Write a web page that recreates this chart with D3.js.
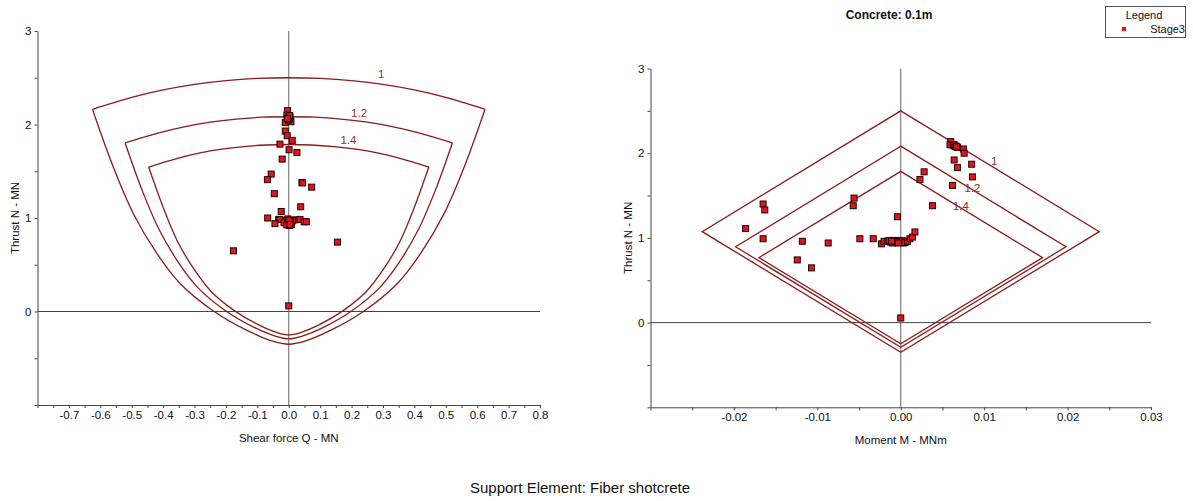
<!DOCTYPE html>
<html>
<head>
<meta charset="utf-8">
<script src="https://d3js.org/d3.v7.min.js"></script>
<style>
  body { margin: 0; background: #fff; }
  svg text { font-family: "Liberation Sans", Arial, sans-serif; }
</style>
</head>
<body>
<svg id="chart" width="1193" height="501"></svg>
<script>
// factor of safety for each envelope
const safetyFactors = ["1", "1.2", "1.4"];

// shear force envelopes [Q, N] - top arc and lower U, one per safety factor
const shearTopFS1 = [[-0.625,2.163],[-0.5,2.29],[-0.4,2.37],[-0.3,2.43],[-0.2,2.47],[-0.1,2.493],[0,2.5],[0.1,2.493],[0.2,2.47],[0.3,2.43],[0.4,2.37],[0.5,2.29],[0.625,2.163]];
const shearLowFS1 = [[-0.625,2.163],[-0.559,1.548],[-0.495,1.049],[-0.42,0.621],[-0.346,0.30],[-0.24,0.006],[-0.134,-0.20],[-0.049,-0.32],[0,-0.35],[0.049,-0.32],[0.134,-0.20],[0.24,0.006],[0.346,0.30],[0.42,0.621],[0.495,1.049],[0.559,1.548],[0.625,2.163]];
const shearTopFS12 = [[-0.521,1.803],[-0.417,1.908],[-0.333,1.975],[-0.25,2.025],[-0.167,2.058],[-0.083,2.078],[0,2.083],[0.083,2.078],[0.167,2.058],[0.25,2.025],[0.333,1.975],[0.417,1.908],[0.521,1.803]];
const shearLowFS12 = [[-0.521,1.803],[-0.466,1.29],[-0.4125,0.874],[-0.35,0.518],[-0.288,0.25],[-0.2,0.005],[-0.112,-0.167],[-0.041,-0.265],[0,-0.292],[0.041,-0.265],[0.112,-0.167],[0.2,0.005],[0.288,0.25],[0.35,0.518],[0.4125,0.874],[0.466,1.29],[0.521,1.803]];
const shearTopFS14 = [[-0.446,1.545],[-0.357,1.636],[-0.286,1.693],[-0.214,1.736],[-0.143,1.764],[-0.071,1.781],[0,1.786],[0.071,1.781],[0.143,1.764],[0.214,1.736],[0.286,1.693],[0.357,1.636],[0.446,1.545]];
const shearLowFS14 = [[-0.446,1.545],[-0.399,1.106],[-0.354,0.749],[-0.3,0.444],[-0.247,0.214],[-0.171,0.004],[-0.096,-0.143],[-0.035,-0.228],[0,-0.25],[0.035,-0.228],[0.096,-0.143],[0.171,0.004],[0.247,0.214],[0.3,0.444],[0.354,0.749],[0.399,1.106],[0.446,1.545]];

// moment envelopes [M, N] (diamonds)
const momentFS1 = [[0,2.5],[0.0238,1.074],[0,-0.35],[-0.0238,1.074]];
const momentFS12 = [[0,2.083],[0.0198,0.895],[0,-0.292],[-0.0198,0.895]];
const momentFS14 = [[0,1.786],[0.017,0.767],[0,-0.25],[-0.017,0.767]];

// Stage3 liner results [Q, N]
const shearStage3 = [
  [-0.004,2.148],[-0.011,2.02],[0.007,2.03],[-0.011,1.93],[-0.005,1.88],[0.011,1.83],[-0.028,1.79],[0.001,1.73],
  [0.026,1.70],[-0.021,1.63],[-0.056,1.47],[-0.068,1.41],[0.042,1.38],[0.044,1.375],[0.073,1.33],[-0.046,1.26],
  [-0.024,1.07],[0.038,1.12],[-0.067,1.00],[-0.032,0.985],[-0.028,0.985],[-0.044,0.94],[0.02,0.98],
  [0.036,0.985],[0.049,0.96],[0.056,0.96],
  [-0.003,2.09],[0.002,2.07],[-0.002,2.06],[0.004,2.08],[0,2.05],[-0.006,2.1],[0.001,2.085],[-0.001,2.075],[0.003,2.095],[-0.004,2.065],
  [-0.01,0.96],[-0.005,0.94],[0,0.97],[0.005,0.95],[0.008,0.93],[-0.003,0.99],[0.003,0.92],[0,0.95],[-0.008,0.97],[0.01,0.96],[-0.015,0.95],[0.012,0.975],
  [-0.004,0.955],[0.002,0.945],[0.006,0.965],[-0.002,0.935],[0.001,0.975],[-0.006,0.925],[0.004,0.93],
  [0.155,0.742],[-0.176,0.649],[0,0.06]
];
// Stage3 liner results [M, N]
const momentStage3 = [
  [0.0060,2.137],[0.0059,2.10],[0.0075,2.05],[0.0076,2.00],
  [0.0064,1.92],[0.0085,1.87],[0.0068,1.83],[0.0086,1.72],[0.0062,1.62],[0.0028,1.78],[0.0023,1.69],
  [0.0038,1.38],[-0.0056,1.47],[-0.0057,1.38],[-0.0004,1.25],[-0.0165,1.40],[-0.0163,1.33],[-0.0186,1.11],
  [-0.0165,0.99],[-0.0118,0.96],[-0.0087,0.94],[-0.0049,0.99],[-0.0033,0.99],[-0.0023,0.93],[-0.0020,0.96],
  [0.0065,2.08],[0.0063,2.09],[0.0068,2.07],[0.0064,2.10],[0.0066,2.085],[0.0067,2.075],
  [-0.0016,0.96],[-0.0012,0.95],[-0.0008,0.97],[-0.0004,0.95],[0,0.96],[0.0003,0.94],[-0.0002,0.97],[0.0004,0.96],[-0.001,0.94],[-0.0014,0.97],[0.0001,0.95],
  [-0.0006,0.955],[0.0002,0.965],[-0.0011,0.962],[0.0005,0.945],[-0.0003,0.94],
  [0.0008,0.96],[0.0011,0.99],[0.0014,1.01],[0.0017,1.07],
  [-0.0124,0.74],[-0.0107,0.646],[0,0.055]
];

// tick labels
const shearTickLabels = [-0.7,-0.6,-0.5,-0.4,-0.3,-0.2,-0.1,0,0.1,0.2,0.3,0.4,0.5,0.6,0.7,0.8];
const momentTickLabels = [-0.02,-0.01,0,0.01,0.02,0.03];
const thrustTickLabels = [0,1,2,3];

const svg = d3.select("#chart");
const lineColor = "#8b1a1a";
const axisColor = "#444";
const locale = d3.formatLocale({decimal: ".", thousands: ",", grouping: [3], currency: ["", ""], minus: "-"});

function drawPanel(o) {
  const x = d3.scaleLinear().domain(o.xDomain).range(o.xRange);
  const y = d3.scaleLinear().domain([-1, 3]).range(o.yRange);
  const g = svg.append("g");

  // zero lines
  g.append("line").attr("x1", x(o.xDomain[0])).attr("x2", x(o.xDomain[1]))
    .attr("y1", y(0)).attr("y2", y(0)).attr("stroke", axisColor).attr("stroke-width", 1);
  g.append("line").attr("x1", x(0)).attr("x2", x(0))
    .attr("y1", y(3)).attr("y2", y(-1)).attr("stroke", "#666").attr("stroke-width", 1);

  // axes
  const fmt = locale.format(o.fmt);
  const xAxis = d3.axisBottom(x)
    .tickValues(d3.range(o.xDomain[0], o.xDomain[1] + o.minor / 2, o.minor))
    .tickSizeInner(3).tickSizeOuter(0)
    .tickFormat(v => {
      const lab = o.labels.find(l => Math.abs(l - v) < o.minor / 10);
      return lab === undefined ? "" : fmt(lab);
    });
  const yAxis = d3.axisLeft(y)
    .tickValues(d3.range(-1, 3.25, 0.5))
    .tickSizeInner(3).tickSizeOuter(0)
    .tickFormat(v => thrustTickLabels.includes(v) ? v : "");

  [g.append("g").attr("transform", `translate(0,${y(-1)})`).call(xAxis),
   g.append("g").attr("transform", `translate(${x(o.xDomain[0])},0)`).call(yAxis)]
    .forEach(a => {
      a.select(".domain").attr("stroke", axisColor);
      a.selectAll(".tick line").attr("stroke", axisColor);
      a.selectAll("text").attr("font-size", 11.5).attr("fill", "#111")
        .attr("font-family", "'Liberation Sans', Arial, sans-serif");
    });

  // envelopes
  o.curves.forEach(c => {
    g.append("path").datum(c.pts)
      .attr("d", d3.line().x(d => x(d[0])).y(d => y(d[1])).curve(c.curve))
      .attr("fill", "none").attr("stroke", lineColor).attr("stroke-width", 1.3);
  });

  // factor labels
  o.fsLabels.forEach((p, i) => {
    g.append("text").attr("x", x(p[0])).attr("y", y(p[1]))
      .attr("text-anchor", "middle").attr("dominant-baseline", "middle")
      .attr("font-size", 11.5).attr("fill", "#8b3030").text(safetyFactors[i]);
  });

  // points
  g.selectAll("rect.pt").data(o.points).join("rect").attr("class", "pt")
    .attr("x", d => x(d[0]) - 3).attr("y", d => y(d[1]) - 3)
    .attr("width", 6).attr("height", 6)
    .attr("fill", "#e3141c").attr("stroke", "#1a0404").attr("stroke-width", 1);

  // titles
  g.append("text").attr("x", x(0)).attr("y", o.xTitleY)
    .attr("text-anchor", "middle").attr("font-size", 11.5).attr("fill", "#111").text(o.xTitle);
  g.append("text").attr("transform", `translate(${o.yTitleX},${y(1)}) rotate(-90)`)
    .attr("text-anchor", "middle").attr("font-size", 11.5).attr("fill", "#111").text("Thrust N - MN");
}

const rom = d3.curveCatmullRom.alpha(0.5);

drawPanel({
  xDomain: [-0.8, 0.8], xRange: [37.5, 540], yRange: [405, 31],
  minor: 0.05, labels: shearTickLabels, fmt: ".1f",
  curves: [
    {pts: shearTopFS1, curve: rom}, {pts: shearLowFS1, curve: rom},
    {pts: shearTopFS12, curve: rom}, {pts: shearLowFS12, curve: rom},
    {pts: shearTopFS14, curve: rom}, {pts: shearLowFS14, curve: rom}
  ],
  fsLabels: [[0.294, 2.53], [0.224, 2.11], [0.19, 1.82]],
  points: shearStage3,
  xTitle: "Shear force Q - MN", xTitleY: 442, yTitleX: 19
});

drawPanel({
  xDomain: [-0.03, 0.03], xRange: [650.5, 1151], yRange: [407.3, 68.5],
  minor: 0.005, labels: momentTickLabels, fmt: ".2f",
  curves: [
    {pts: momentFS1, curve: d3.curveLinearClosed},
    {pts: momentFS12, curve: d3.curveLinearClosed},
    {pts: momentFS14, curve: d3.curveLinearClosed}
  ],
  fsLabels: [[0.0112, 1.90], [0.0086, 1.58], [0.0072, 1.37]],
  points: momentStage3,
  xTitle: "Moment M - MNm", xTitleY: 444, yTitleX: 632
});

// chart title
svg.append("text").attr("x", 889).attr("y", 19).attr("text-anchor", "middle")
  .attr("font-size", 12).attr("font-weight", "bold").attr("fill", "#111").text("Concrete: 0.1m");

// legend
const lg = svg.append("g");
lg.append("rect").attr("x", 1105.5).attr("y", 6.5).attr("width", 80).attr("height", 31)
  .attr("fill", "#fff").attr("stroke", "#555");
lg.append("text").attr("x", 1144).attr("y", 19).attr("text-anchor", "middle")
  .attr("font-size", 11).attr("fill", "#111").text("Legend");
lg.append("rect").attr("x", 1122).attr("y", 27).attr("width", 4).attr("height", 4).attr("fill", "#e3141c");
lg.append("text").attr("x", 1185).attr("y", 33).attr("text-anchor", "end")
  .attr("font-size", 11).attr("fill", "#111").text("Stage3");

// caption
svg.append("text").attr("x", 580).attr("y", 493).attr("text-anchor", "middle")
  .attr("font-size", 15).attr("fill", "#111").text("Support Element: Fiber shotcrete");
</script>
</body>
</html>
